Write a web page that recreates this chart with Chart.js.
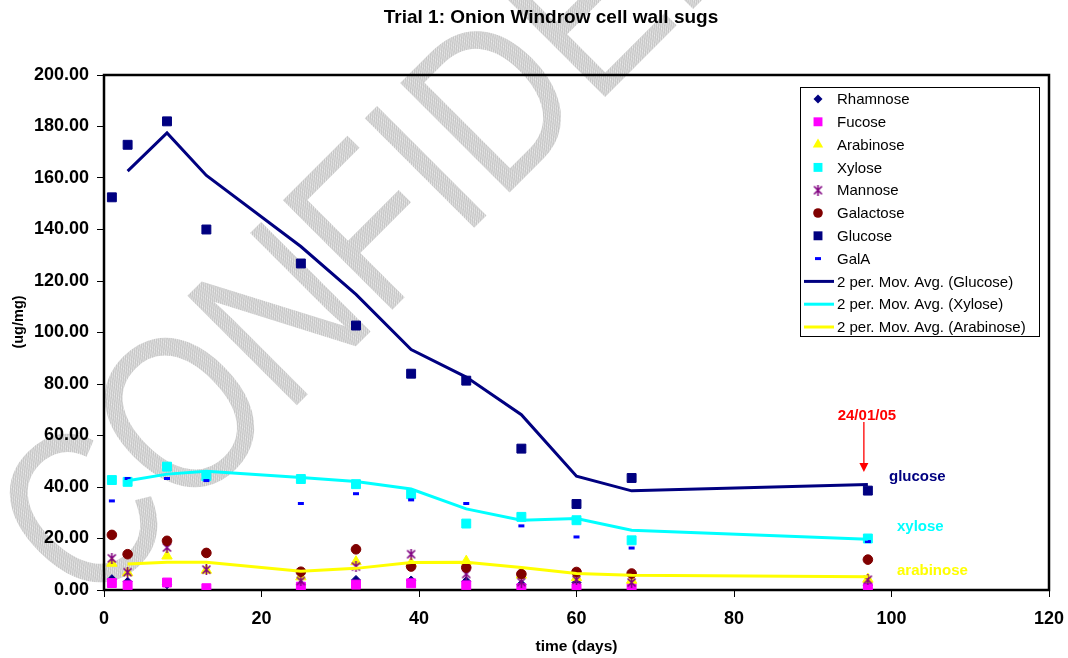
<!DOCTYPE html>
<html>
<head>
<meta charset="utf-8">
<script src="https://cdn.jsdelivr.net/npm/chart.js@4"></script>
<style>
  body { margin: 0; background: #fff; }
  #wrap { width: 1068px; height: 658px; }
</style>
</head>
<body>
<div id="wrap"><canvas id="myChart" width="1068" height="658"></canvas></div>
<script>
const FONT = "'Liberation Sans', Arial, sans-serif";

// ==== data (days, ug/mg) ====
const days = [1, 3, 8, 13, 25, 32, 39, 46, 53, 60, 67, 97];
const rhamnose  = [4.2, 3.2, 2.2, 0.3, 2.0, 3.9, 3.7, 3.4, 2.2, 2.9, 2.7, 1.8];
const fucose    = [2.7, 1.8, 2.9, 0.7, 1.3, 2.1, 2.6, 1.8, 0.7, 0.7, 0.7, 0.7];
const arabinose = [10.4, 6.7, 13.2, 7.7, 5.1, 11.0, 10.4, 11.2, 5.8, 4.8, 3.8, 4.2];
const xylose    = [42.7, 42.0, 47.9, 44.2, 43.1, 41.1, 37.2, 25.8, 28.4, 27.1, 19.3, 20.0];
const mannose   = [12.3, 6.9, 16.5, 7.9, 3.5, 9.1, 13.9, 6.2, 3.1, 4.0, 2.9, 4.0];
const galactose = [21.4, 13.9, 19.1, 14.4, 7.1, 15.8, 9.1, 8.7, 6.2, 7.0, 6.4, 11.8];
const glucose   = [152.5, 172.9, 182.0, 140.0, 126.8, 102.7, 84.0, 81.3, 54.9, 33.4, 43.5, 38.6];
const galA      = [34.6, 43.3, 43.3, 42.5, 33.6, 37.4, 35.0, 33.6, 24.9, 20.6, 16.3, 18.8];

// trend lines (2 per. moving average) as drawn
const maDays = [3, 8, 13, 25, 32, 39, 46, 53, 60, 67, 97];
const glucoseMA   = [162.7, 177.5, 161.0, 133.4, 114.8, 93.4, 82.7, 68.1, 44.2, 38.5, 41.0];
const xyloseMA    = [42.4, 45.0, 46.1, 43.7, 42.1, 39.2, 31.5, 27.1, 27.8, 23.2, 19.7];
const arabinoseMA = [10.1, 10.8, 10.8, 7.3, 8.4, 10.7, 10.8, 8.7, 6.4, 5.7, 5.1];

const xTicks = [0, 20, 40, 60, 80, 100, 120];
const yTicks = [0, 20, 40, 60, 80, 100, 120, 140, 160, 180, 200];

const pts = (xs, ys) => xs.map((x, i) => ({ x: x, y: ys[i] }));

// ==== custom markers ====
const makeAsterisk = () => {
    const c = document.createElement('canvas');
    c.width = 11; c.height = 11;
    const g = c.getContext('2d');
    g.strokeStyle = '#800080';
    g.lineWidth = 1.6;
    g.beginPath();
    g.moveTo(1.5, 1.5); g.lineTo(9.5, 9.5);
    g.moveTo(9.5, 1.5); g.lineTo(1.5, 9.5);
    g.moveTo(5.5, 0); g.lineTo(5.5, 11);
    g.stroke();
    return c;
};
const asterisk = makeAsterisk();

const mk = (label, xs, ys, color, style, radius, order) => ({
    label: label,
    data: pts(xs, ys),
    backgroundColor: color,
    borderColor: color,
    pointStyle: style,
    pointRadius: radius,
    pointBorderWidth: style === 'line' ? 3 : 1,
    order: order
});

const mkTrend = (label, ys, color) => ({
    label: label,
    data: pts(maDays, ys),
    showLine: true,
    borderColor: color,
    backgroundColor: color,
    borderWidth: 3,
    pointRadius: 0,
    pointStyle: 'line',
    order: 0
});

const data = {
    datasets: [
        mk('Rhamnose', days, rhamnose, '#000080', 'rectRot', 4.5, 8),
        mk('Fucose', days, fucose, '#FF00FF', 'rect', 6.3, 7),
        mk('Arabinose', days, arabinose, '#FFFF00', 'triangle', 6, 6),
        mk('Xylose', days, xylose, '#00FFFF', 'rect', 6.3, 5),
        mk('Mannose', days, mannose, '#800080', asterisk, 5, 4),
        mk('Galactose', days, galactose, '#800000', 'circle', 4.8, 3),
        mk('Glucose', days, glucose, '#000080', 'rect', 6.3, 2),
        mk('GalA', days, galA, '#0000FF', 'line', 3, 1),
        mkTrend('2 per. Mov. Avg. (Glucose)', glucoseMA, '#000080'),
        mkTrend('2 per. Mov. Avg. (Xylose)', xyloseMA, '#00FFFF'),
        mkTrend('2 per. Mov. Avg. (Arabinose)', arabinoseMA, '#FFFF00')
    ]
};

// ==== legend marker drawer ====
const drawMarker = (ctx, ds, x, y) => {
    const r = ds.pointRadius;
    const st = ds.pointStyle;
    ctx.save();
    ctx.fillStyle = ds.backgroundColor;
    ctx.strokeStyle = ds.borderColor;
    if (ds.showLine) {
        ctx.lineWidth = 3;
        ctx.beginPath(); ctx.moveTo(x - 14, y); ctx.lineTo(x + 16, y); ctx.stroke();
    } else if (st instanceof HTMLCanvasElement) {
        ctx.drawImage(st, x - st.width / 2, y - st.height / 2);
    } else if (st === 'rect') {
        const s = r * Math.SQRT1_2;
        ctx.fillRect(x - s, y - s, 2 * s, 2 * s);
    } else if (st === 'rectRot') {
        ctx.beginPath();
        ctx.moveTo(x, y - r); ctx.lineTo(x + r, y); ctx.lineTo(x, y + r); ctx.lineTo(x - r, y);
        ctx.closePath(); ctx.fill();
    } else if (st === 'triangle') {
        ctx.beginPath();
        ctx.moveTo(x, y - r);
        ctx.lineTo(x + r * 0.866, y + r / 2);
        ctx.lineTo(x - r * 0.866, y + r / 2);
        ctx.closePath(); ctx.fill();
    } else if (st === 'circle') {
        ctx.beginPath(); ctx.arc(x, y, r, 0, Math.PI * 2); ctx.fill();
    } else if (st === 'line') {
        ctx.lineWidth = 3;
        ctx.beginPath(); ctx.moveTo(x - r, y); ctx.lineTo(x + r, y); ctx.stroke();
    }
    ctx.restore();
};

// ==== plugin: background, watermark, frame, texts, legend ====
const extras = {
    id: 'extras',
    beforeDraw(chart) {
        const ctx = chart.ctx;
        ctx.save();
        ctx.fillStyle = '#fff';
        ctx.fillRect(0, 0, chart.width, chart.height);

        // stipple pattern for the watermark
        const p = document.createElement('canvas');
        p.width = 3; p.height = 3;
        const pg = p.getContext('2d');
        pg.fillStyle = '#c6c6c6'; pg.fillRect(0, 0, 3, 3);
        pg.fillStyle = '#ececec'; pg.fillRect(0, 0, 1, 1); pg.fillRect(2, 1, 1, 1); pg.fillRect(1, 2, 1, 1);
        ctx.fillStyle = ctx.createPattern(p, 'repeat');
        ctx.translate(88, 614);
        ctx.rotate(-Math.PI / 4);
        ctx.scale(0.83, 1);
        ctx.font = '225px ' + FONT;
        ctx.textBaseline = 'alphabetic';
        ctx.fillText('CONFIDENTIAL', 0, 0);
        ctx.restore();
    },
    beforeDatasetsDraw(chart) {
        const ctx = chart.ctx;
        const a = chart.chartArea;
        ctx.save();
        ctx.strokeStyle = '#000';
        ctx.lineWidth = 2.5;
        ctx.strokeRect(a.left, a.top, a.right - a.left, a.bottom - a.top);
        ctx.restore();
    },
    afterDraw(chart) {
        const ctx = chart.ctx;
        const a = chart.chartArea;
        const xs = chart.scales.x;
        ctx.save();
        ctx.textAlign = 'center';
        ctx.textBaseline = 'middle';

        ctx.fillStyle = '#000';
        ctx.font = 'bold 19px ' + FONT;
        ctx.fillText('Trial 1: Onion Windrow cell wall sugs', 551, 18);
        ctx.font = 'bold 15.5px ' + FONT;
        ctx.fillText('time (days)', (a.left + a.right) / 2, 647);

        ctx.save();
        ctx.translate(19, 322);
        ctx.rotate(-Math.PI / 2);
        ctx.font = 'bold 14.5px ' + FONT;
        ctx.fillText('(ug/mg)', 0, 0);
        ctx.restore();

        // date marker
        const ax = xs.getPixelForValue(97) - 4;
        ctx.fillStyle = '#FF0000';
        ctx.strokeStyle = '#FF0000';
        ctx.font = 'bold 15px ' + FONT;
        ctx.fillText('24/01/05', ax + 3, 416);
        ctx.lineWidth = 1.3;
        ctx.beginPath(); ctx.moveTo(ax, 422); ctx.lineTo(ax, 464); ctx.stroke();
        ctx.beginPath(); ctx.moveTo(ax - 4.5, 463); ctx.lineTo(ax + 4.5, 463); ctx.lineTo(ax, 472); ctx.closePath(); ctx.fill();

        // series labels on the right
        ctx.textAlign = 'left';
        ctx.font = 'bold 15px ' + FONT;
        ctx.fillStyle = '#000080';
        ctx.fillText('glucose', 889, 477);
        ctx.fillStyle = '#00FFFF';
        ctx.fillText('xylose', 897, 527);
        ctx.fillStyle = '#FFFF00';
        ctx.fillText('arabinose', 897, 571);

        // legend box
        const lx = 800, ly = 87, lw = 239, lh = 249;
        ctx.fillStyle = '#fff';
        ctx.fillRect(lx, ly, lw, lh);
        ctx.strokeStyle = '#000';
        ctx.lineWidth = 1;
        ctx.strokeRect(lx + 0.5, ly + 0.5, lw, lh);
        ctx.font = '15px ' + FONT;
        chart.data.datasets.forEach((ds, i) => {
            const yy = 99 + i * 22.8;
            drawMarker(ctx, ds, 818, yy);
            ctx.fillStyle = '#000';
            ctx.fillText(ds.label, 837, yy + 1);
        });
        ctx.restore();
    }
};

let myChart = new Chart(document.getElementById('myChart'), {
    type: 'scatter',
    data: data,
    options: {
        responsive: false,
        animation: false,
        events: [],
        layout: { padding: { top: 75, right: 19, left: 0, bottom: 0 } },
        plugins: { legend: { display: false }, tooltip: { enabled: false }, title: { display: false } },
        scales: {
            x: {
                type: 'linear',
                min: 0, max: 120,
                afterFit: (s) => { s.height = 68; s.paddingLeft = 0; s.paddingRight = 0; },
                afterBuildTicks: (s) => { s.ticks = xTicks.map(v => ({ value: v })); },
                grid: { drawOnChartArea: false, drawTicks: true, tickLength: 7, color: '#000', lineWidth: 1 },
                border: { display: false },
                ticks: { color: '#000', padding: 11, font: { family: FONT, size: 18, weight: 'bold' } }
            },
            y: {
                type: 'linear',
                min: 0, max: 200,
                afterFit: (s) => { s.width = 104; s.paddingTop = 0; s.paddingBottom = 0; },
                afterBuildTicks: (s) => { s.ticks = yTicks.map(v => ({ value: v })); },
                grid: { drawOnChartArea: false, drawTicks: true, tickLength: 7, color: '#000', lineWidth: 1 },
                border: { display: false },
                ticks: {
                    color: '#000', padding: 8,
                    font: { family: FONT, size: 18, weight: 'bold' },
                    callback: (v) => Number(v).toFixed(2)
                }
            }
        }
    },
    plugins: [extras]
});
</script>
</body>
</html>
